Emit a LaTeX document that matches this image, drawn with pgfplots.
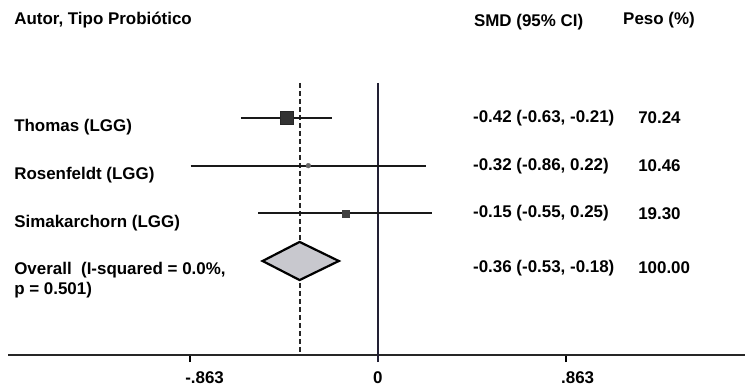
\documentclass[border=0pt]{standalone}
\usepackage{pgfplots}
\pgfplotsset{compat=1.18}
\usepackage{fontspec}
\setmainfont{Liberation Sans}
\definecolor{zeroc}{RGB}{34,32,52}
\definecolor{dfill}{RGB}{200,200,206}
\newcommand\tf{\fontsize{17}{19}\selectfont\bfseries}
\begin{document}
\begin{tikzpicture}
\path[use as bounding box] (0,0) rectangle (745bp,387bp);
\begin{axis}[
  at={(8bp,32bp)}, anchor=south west,
  scale only axis, width=737bp, height=272bp,
  xmin=-1.699, xmax=1.685, ymin=0.266, ymax=5.972, y dir=reverse,
  axis x line=bottom, axis y line=none,
  axis line style={-, line width=1.8bp, black!85},
  xtick={-0.863,0,0.863}, xticklabels={-.863,0,.863},
  tick align=outside, major tick length=7bp,
  tick style={line width=1.5bp, black},
  xticklabel style={font=\tf, anchor=north west, xshift=-5bp, inner sep=0pt},
  xticklabel shift=9.5bp,
  clip=false,
]
% reference lines
\addplot[line width=2.6bp, color=zeroc] coordinates {(0,0.266) (0,6.12)};
\addplot[line width=2bp, dash pattern=on 5bp off 3bp, black!85] coordinates {(-0.36,0.266) (-0.36,5.972)};
% studies
\addplot[line width=2.2bp, black!90] coordinates {(-0.63,1) (-0.21,1)};
\addplot[only marks, mark=square*, mark size=6.5bp, black!80, mark options={draw=black!85}] coordinates {(-0.42,1)};
\addplot[line width=2.2bp, black!90] coordinates {(-0.86,2) (0.22,2)};
\addplot[only marks, mark=*, mark size=2.4bp, gray!80!black] coordinates {(-0.32,2)};
\addplot[line width=2.2bp, black!90] coordinates {(-0.55,3) (0.25,3)};
\addplot[only marks, mark=square*, mark size=3.4bp, black!75] coordinates {(-0.15,3)};
% overall diamond
\addplot[fill=dfill, draw=black, line width=2.2bp, line join=miter] coordinates {(-0.53,4) (-0.36,3.6) (-0.18,4) (-0.36,4.4)} -- cycle;
% text
\node[anchor=west, inner sep=0pt, font=\tf] at (axis cs:-1.671,-1.056) {Autor, Tipo Probiótico};
\node[anchor=west, inner sep=0pt, font=\tf] at (axis cs:0.44,-1.014) {SMD (95\% CI)};
\node[anchor=west, inner sep=0pt, font=\tf] at (axis cs:1.125,-1.056) {Peso (\%)};
\node[anchor=west, inner sep=0pt, font=\tf] at (axis cs:-1.671,1.19) {Thomas (LGG)};
\node[anchor=west, inner sep=0pt, font=\tf] at (axis cs:-1.671,2.196) {Rosenfeldt (LGG)};
\node[anchor=west, inner sep=0pt, font=\tf] at (axis cs:-1.671,3.2) {Simakarchorn (LGG)};
\node[anchor=west, inner sep=0pt, font=\tf] at (axis cs:-1.671,4.19) {Overall\ \ (I-squared = 0.0\%,};
\node[anchor=west, inner sep=0pt, font=\tf] at (axis cs:-1.671,4.61) {p = 0.501)};
\node[anchor=west, inner sep=0pt, font=\tf] at (axis cs:0.436,1.0) {-0.42 (-0.63, -0.21)};
\node[anchor=west, inner sep=0pt, font=\tf] at (axis cs:0.436,2.0) {-0.32 (-0.86, 0.22)};
\node[anchor=west, inner sep=0pt, font=\tf] at (axis cs:0.436,3.0) {-0.15 (-0.55, 0.25)};
\node[anchor=west, inner sep=0pt, font=\tf] at (axis cs:0.436,4.15) {-0.36 (-0.53, -0.18)};
\node[anchor=west, inner sep=0pt, font=\tf] at (axis cs:1.194,1.0) {70.24};
\node[anchor=west, inner sep=0pt, font=\tf] at (axis cs:1.194,2.0) {10.46};
\node[anchor=west, inner sep=0pt, font=\tf] at (axis cs:1.194,3.0) {19.30};
\node[anchor=west, inner sep=0pt, font=\tf] at (axis cs:1.194,4.15) {100.00};
\end{axis}
\end{tikzpicture}
\end{document}
